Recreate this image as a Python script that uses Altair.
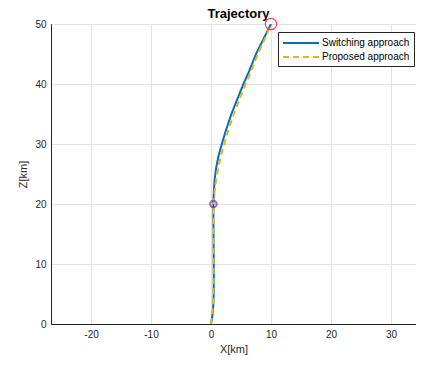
import altair as alt
import pandas as pd

# Switching approach trajectory (X[km], Z[km])
z_switch = [0, 1, 2, 3, 5, 8, 10, 12, 15, 18, 20, 21, 22, 24, 26, 28, 30, 32, 35, 38, 40, 42, 45, 48, 50]
x_switch = [0.0, 0.18, 0.3, 0.38, 0.45, 0.47, 0.46, 0.44, 0.42, 0.40, 0.40, 0.42, 0.47, 0.6, 0.85, 1.25, 1.8, 2.4, 3.4, 4.6, 5.4, 6.3, 7.5, 9.0, 10.0]

# Proposed approach trajectory
z_prop = [0, 1, 2, 3, 5, 8, 10, 12, 15, 18, 20, 21, 22, 24, 26, 28, 30, 32, 35, 38, 40, 42, 45, 48, 50]
x_prop = [0.0, 0.12, 0.22, 0.3, 0.38, 0.42, 0.42, 0.42, 0.41, 0.40, 0.40, 0.48, 0.6, 0.85, 1.2, 1.65, 2.2, 2.8, 3.8, 5.0, 5.8, 6.65, 7.8, 9.2, 10.0]

series = ["Switching approach", "Proposed approach"]
colors = ["#0072BD", "#EDB120"]

# Marker points
end_x, end_z = [10.0], [50.0]
switch_x, switch_z = [0.4], [20.0]

x_ticks = [-20, -10, 0, 10, 20, 30]
y_ticks = [0, 5, 10, 15, 20, 25, 30, 35, 40, 45, 50]

rows = []
for i, (x, z) in enumerate(zip(x_switch, z_switch)):
    rows.append({"X": x, "Z": z, "series": series[0], "i": i})
for i, (x, z) in enumerate(zip(x_prop, z_prop)):
    rows.append({"X": x, "Z": z, "series": series[1], "i": i})
df = pd.DataFrame(rows)

xscale = alt.Scale(domain=[-26.67, 34.17], nice=False, zero=False)
yscale = alt.Scale(domain=[0, 50], nice=False, zero=False)
xaxis = alt.Axis(values=x_ticks, title="X[km]", grid=True, labelExpr="'' + datum.value")
yaxis = alt.Axis(values=y_ticks, title="Z[km]", grid=True, labelExpr="'' + datum.value")

lines = alt.Chart(df).mark_line(strokeWidth=2, clip=True).encode(
    x=alt.X("X:Q", scale=xscale, axis=xaxis),
    y=alt.Y("Z:Q", scale=yscale, axis=yaxis),
    color=alt.Color("series:N", scale=alt.Scale(domain=series, range=colors),
                    sort=series,
                    legend=alt.Legend(title=None, orient="none", legendX=227, legendY=8,
                                      symbolType="M-1,0L5,0", symbolSize=144,
                                      symbolStrokeWidth=2, labelFontSize=10,
                                      labelColor="#000000", strokeColor="#262626",
                                      fillColor="white", padding=4, rowPadding=2,
                                      labelOffset=26)),
    strokeDash=alt.StrokeDash("series:N", scale=alt.Scale(domain=series, range=[[1, 0], [6, 4]]),
                              sort=series, legend=None),
    order="i:Q",
)

end_df = pd.DataFrame({"X": end_x, "Z": end_z})
sw_df = pd.DataFrame({"X": switch_x, "Z": switch_z})

end_mark = alt.Chart(end_df).mark_point(shape="circle", size=130, color="#FF0000",
                                        strokeWidth=1.2, filled=False).encode(
    x=alt.X("X:Q", scale=xscale), y=alt.Y("Z:Q", scale=yscale))
sw_mark = alt.Chart(sw_df).mark_point(shape="circle", size=45, color="#7E2F8E",
                                      strokeWidth=2, filled=False).encode(
    x=alt.X("X:Q", scale=xscale), y=alt.Y("Z:Q", scale=yscale))

chart = alt.layer(lines, sw_mark, end_mark).properties(
    width=365, height=300,
    title=alt.TitleParams("Trajectory", fontSize=13, fontWeight="bold", color="#000000",
                          offset=0, anchor="middle", baseline="bottom", dy=18, dx=5),
    autosize=alt.AutoSizeParams(type="none"),
    padding={"left": 43, "top": 16, "right": 0, "bottom": 31},
).configure(
    font="Liberation Sans"
).configure_view(
    stroke="#262626", strokeWidth=1
).configure_axis(
    domainColor="#262626", tickSize=0, labelColor="#262626", labelFontSize=10,
    titleColor="#262626", titleFontSize=11, titleFontWeight="normal",
    gridColor="#e3e3e3", gridWidth=1, labelPadding=5,
).configure_axisY(titlePadding=6).configure_axisX(titlePadding=4)

chart.save("out.html", embed_options={"renderer": "svg", "actions": False})
